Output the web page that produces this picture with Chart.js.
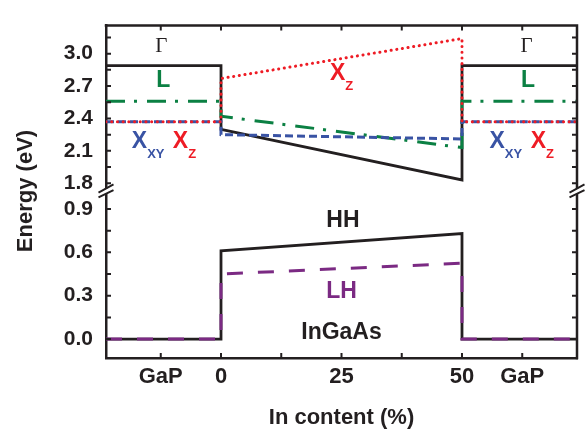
<!DOCTYPE html>
<html><head><meta charset="utf-8">
<script src="https://cdn.jsdelivr.net/npm/chart.js@4"></script>
<style>html,body{margin:0;padding:0;background:#fff}#wrap{width:586px;height:433px;position:relative}</style>
</head><body><div id="wrap"><canvas id="c"></canvas></div>
<script>
// ---- data ----
const xPoints   = [-23.86, 0, 0, 50, 50, 73.86];        // GaP | In content 0..50 % | GaP
const gammaE    = [2.89, 2.89, 2.30, 1.83, 2.89, 2.89];
const lValleyE  = [2.56, 2.56, 2.42, 2.13, 2.56, 2.56];
const xzE       = [2.37, 2.37, 2.77, 3.14, 2.37, 2.37];
const xxyE      = [2.37, 2.37, 2.25, 2.21, 2.37, 2.37];
const hhE       = [0, 0, 0.61, 0.73, 0, 0];
const lhE       = [0, 0, 0.45, 0.525, 0, 0];

const xTickVals   = [-12.5, 0, 25, 50, 62.5];
const xTickLabels = ['GaP', '0', '25', '50', 'GaP'];
const xMinorTicks = [12.5, 37.5];
const topTickVals   = [1.8, 2.1, 2.4, 2.7, 3.0];
const topTickLabels = ['1.8', '2.1', '2.4', '2.7', '3.0'];
const topMinorTicks = [1.95, 2.25, 2.55, 2.85, 3.15];
const botTickVals   = [0, 0.3, 0.6, 0.9];
const botTickLabels = ['0.0', '0.3', '0.6', '0.9'];
const botMinorTicks = [0.15, 0.45, 0.75];

// ---- styles ----
const FAM = "'Liberation Sans', Arial, sans-serif";
const INK = '#231f20', GREEN = '#0b8043', RED = '#ee1c25', BLUE = '#3953a4', PURPLE = '#7b2a83';

const annotations = [
  {text: 'Γ', x: -12.4, y: 3.015, axis: 'yT', color: INK, font: "21px 'Liberation Serif', 'Times New Roman', serif", align: 'center'},
  {text: 'Γ', x: 63.4,  y: 3.015, axis: 'yT', color: INK, font: "21px 'Liberation Serif', 'Times New Roman', serif", align: 'center'},
  {text: 'L', x: -12.0, y: 2.693, axis: 'yT', color: GREEN, font: 'bold 23px ' + FAM, align: 'center'},
  {text: 'L', x: 63.7,  y: 2.693, axis: 'yT', color: GREEN, font: 'bold 23px ' + FAM, align: 'center'},
  {text: 'X', sub: 'XY', x: -18.5, y: 2.123, axis: 'yT', color: BLUE, font: 'bold 23px ' + FAM, align: 'left'},
  {text: 'X', sub: 'Z',  x: -10.0, y: 2.123, axis: 'yT', color: RED,  font: 'bold 23px ' + FAM, align: 'left'},
  {text: 'X', sub: 'XY', x: 55.7,  y: 2.123, axis: 'yT', color: BLUE, font: 'bold 23px ' + FAM, align: 'left'},
  {text: 'X', sub: 'Z',  x: 64.25, y: 2.123, axis: 'yT', color: RED,  font: 'bold 23px ' + FAM, align: 'left'},
  {text: 'X', sub: 'Z',  x: 22.6,  y: 2.752, axis: 'yT', color: RED,  font: 'bold 23px ' + FAM, align: 'left'},
  {text: 'HH', x: 25.3, y: 0.773, axis: 'yB', color: INK, font: 'bold 23px ' + FAM, align: 'center'},
  {text: 'LH', x: 25.0, y: 0.282, axis: 'yB', color: PURPLE, font: 'bold 23px ' + FAM, align: 'center'},
  {text: 'InGaAs', x: 25.0, y: 0.0, axis: 'yB', color: INK, font: 'bold 23px ' + FAM, align: 'center'}
];

const pts = arr => xPoints.map((x, i) => ({x: x, y: arr[i]}));
const line = (label, arr, axis, color, width, dash, cap) => ({
  label: label, data: pts(arr), yAxisID: axis, showLine: true, borderColor: color, backgroundColor: color,
  borderWidth: width, borderDash: dash, borderCapStyle: cap || 'butt', borderJoinStyle: 'miter',
  pointRadius: 0, pointHoverRadius: 0, tension: 0, fill: false
});

const framePlugin = {
  id: 'frame',
  afterDraw(chart) {
    const {ctx, chartArea: a, scales} = chart;
    const sx = scales.x, yT = scales.yT, yB = scales.yB;
    ctx.save();
    ctx.strokeStyle = INK;
    ctx.lineWidth = 2.5;
    ctx.lineCap = 'butt';
    ctx.beginPath();
    ctx.moveTo(a.left - 1.25, a.top); ctx.lineTo(a.right + 1.25, a.top);
    ctx.moveTo(a.right, a.top); ctx.lineTo(a.right, a.bottom + 1.25);
    ctx.stroke();
    // inward ticks
    const tl = 5;
    ctx.lineWidth = 2;
    ctx.beginPath();
    xTickVals.concat(xMinorTicks).forEach(v => {
      const p = sx.getPixelForValue(v);
      ctx.moveTo(p, a.bottom); ctx.lineTo(p, a.bottom - tl);
      ctx.moveTo(p, a.top); ctx.lineTo(p, a.top + tl);
    });
    [[yT, topTickVals.concat(topMinorTicks)], [yB, botTickVals.concat(botMinorTicks)]].forEach(([s, vals]) => {
      vals.forEach(v => {
        const p = s.getPixelForValue(v);
        ctx.moveTo(a.left, p); ctx.lineTo(a.left + tl, p);
        ctx.moveTo(a.right, p); ctx.lineTo(a.right - tl, p);
      });
    });
    ctx.stroke();
    // axis breaks
    const yj = yT.bottom;
    [a.left, a.right].forEach(px => {
      ctx.fillStyle = '#fff';
      ctx.fillRect(px - 3, yj - 3, 6, 5.5);
      ctx.strokeStyle = INK;
      ctx.lineWidth = 2;
      ctx.beginPath();
      ctx.moveTo(px - 7.5, yj + 1.3); ctx.lineTo(px + 7.5, yj - 7);
      ctx.moveTo(px - 7.5, yj + 6);   ctx.lineTo(px + 7.5, yj - 1.3);
      ctx.stroke();
    });
    // y axis title
    ctx.save();
    ctx.translate(25.5, 191);
    ctx.rotate(-Math.PI / 2);
    ctx.font = 'bold 22px ' + FAM;
    ctx.fillStyle = INK;
    ctx.textAlign = 'center';
    ctx.textBaseline = 'middle';
    ctx.fillText('Energy (eV)', 0, 0);
    ctx.restore();
    // annotations
    annotations.forEach(an => {
      const px = sx.getPixelForValue(an.x), py = scales[an.axis].getPixelForValue(an.y);
      ctx.font = an.font; ctx.fillStyle = an.color; ctx.textAlign = an.align; ctx.textBaseline = 'alphabetic';
      ctx.fillText(an.text, px, py);
      if (an.sub) {
        const w = ctx.measureText(an.text).width;
        ctx.font = 'bold 13px ' + FAM;
        ctx.textAlign = 'left';
        ctx.fillText(an.sub, px + w, py + 10);
      }
    });
    ctx.restore();
  }
};

const tickFont = {family: FAM, weight: 'bold', size: 21};
const yCommon = (min, max, weight, vals, labels) => ({
  type: 'linear', position: 'left', stack: 'energy', stackWeight: weight, min: min, max: max,
  grid: {drawOnChartArea: false, drawTicks: false},
  border: {display: true, color: INK, width: 2.5},
  afterBuildTicks: s => { s.ticks = vals.map(v => ({value: v})); },
  afterFit: s => { s.width = 106; },
  ticks: {autoSkip: false, padding: 13, color: INK, font: tickFont, callback: (v, i) => labels[i]}
});

new Chart(document.getElementById('c'), {
  type: 'scatter',
  data: {
    datasets: [
      line('X_Z', xzE, 'yT', RED, 3, [0.1, 5.6], 'round'),
      line('X_XY', xxyE, 'yT', BLUE, 3, [8, 4]),
      line('L', lValleyE, 'yT', GREEN, 3, [19, 9, 3, 10]),
      line('Γ', gammaE, 'yT', INK, 2.8, []),
      line('LH', lhE, 'yB', PURPLE, 3, [16, 15]),
      line('HH', hhE, 'yB', INK, 2.8, [])
    ]
  },
  options: {
    responsive: true,
    maintainAspectRatio: false,
    animation: false,
    events: [],
    layout: {padding: {top: 7, right: 9, left: 0, bottom: 0}},
    plugins: {legend: {display: false}, tooltip: {enabled: false}, title: {display: false}},
    scales: {
      x: {
        type: 'linear', position: 'bottom', min: -23.86, max: 73.86,
        grid: {drawOnChartArea: false, drawTicks: false},
        border: {display: true, color: INK, width: 2.5},
        afterBuildTicks: s => { s.ticks = xTickVals.map(v => ({value: v})); },
        afterFit: s => { s.height = 75; },
        ticks: {autoSkip: false, maxRotation: 0, minRotation: 0, padding: 6, color: INK,
                font: {family: FAM, weight: 'bold', size: 22}, callback: (v, i) => xTickLabels[i]},
        title: {display: true, text: 'In content (%)', color: INK,
                font: {family: FAM, weight: 'bold', size: 22}, padding: {top: 0, bottom: 2}}
      },
      yB: yCommon(-0.131, 1.022, 176, botTickVals, botTickLabels),
      yT: yCommon(1.725, 3.26, 175, topTickVals, topTickLabels)
    }
  },
  plugins: [framePlugin]
});
</script>
</body></html>
